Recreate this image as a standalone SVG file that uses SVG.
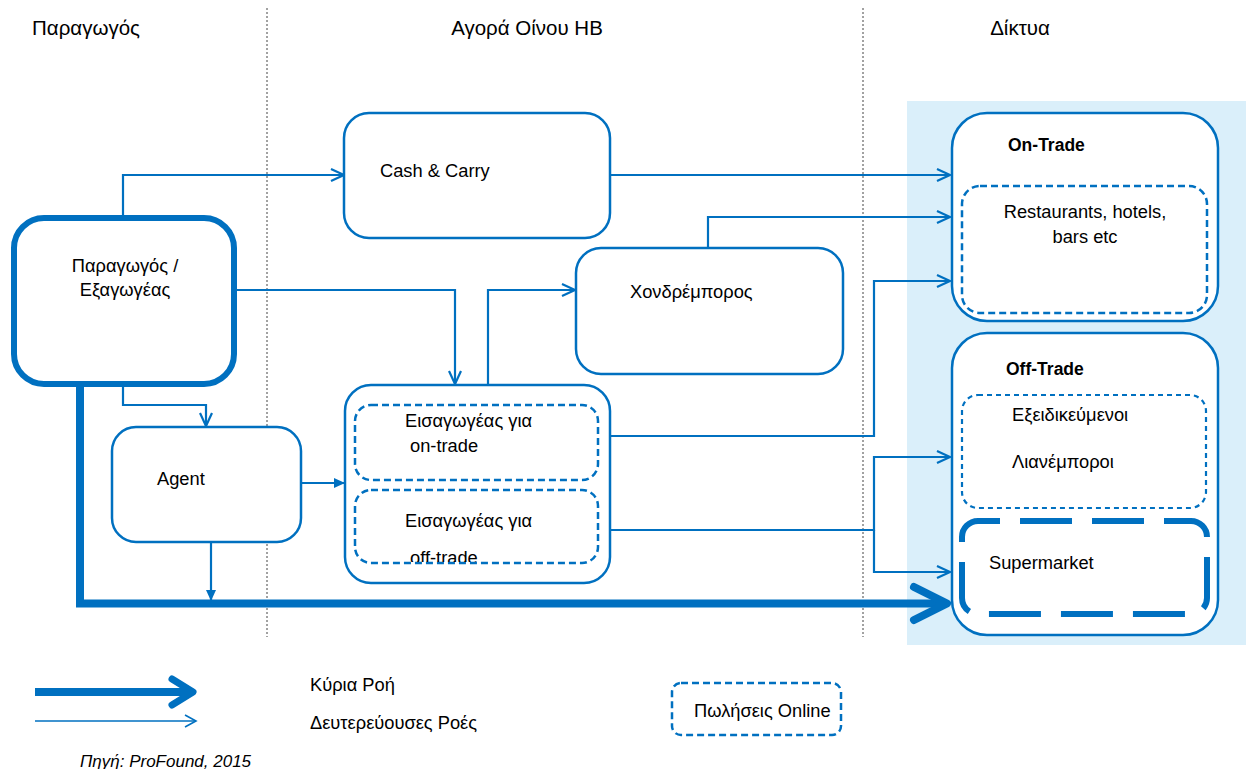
<svg xmlns="http://www.w3.org/2000/svg" width="1246" height="769" viewBox="0 0 1246 769">
<defs>
<style>
text{font-family:"Liberation Sans",Arial,sans-serif;font-size:18.3px;fill:#000}
.hdr{font-size:20.5px}
.b{font-weight:bold;font-size:17.5px}
.box{fill:#fff;stroke:#0070C0;stroke-width:2.5}
.dash{fill:none;stroke:#0070C0;stroke-width:2.5;stroke-dasharray:7,4}
.dash2{fill:none;stroke:#0070C0;stroke-width:2.2;stroke-dasharray:5,4}
.con{fill:none;stroke:#0070C0;stroke-width:2.2}
.sep{stroke:#444;stroke-width:1;stroke-dasharray:2,2}
</style>
<marker id="open" markerUnits="userSpaceOnUse" markerWidth="16" markerHeight="16" viewBox="0 0 16 16" refX="15" refY="8" orient="auto">
<path d="M2,2 L15,8 L2,14" fill="none" stroke="#0070C0" stroke-width="2.2"/>
</marker>
<marker id="fill" markerUnits="userSpaceOnUse" markerWidth="12" markerHeight="12" viewBox="0 0 12 12" refX="11" refY="6" orient="auto">
<path d="M0,1 L11,6 L0,11 Z" fill="#0070C0"/>
</marker>
<clipPath id="clipOff"><rect x="350" y="490" width="260" height="72"/></clipPath>
</defs>

<rect x="907" y="101" width="339" height="544" fill="#DAEFFA"/>

<line class="sep" x1="267" y1="8" x2="267" y2="637"/>
<line class="sep" x1="863" y1="8" x2="863" y2="637"/>

<g id="headers">
<text class="hdr" x="86" y="35" text-anchor="middle">Παραγωγός</text>
<text class="hdr" x="527" y="35" text-anchor="middle">Αγορά Οίνου ΗΒ</text>
<text class="hdr" x="1020" y="35" text-anchor="middle">Δίκτυα</text>
</g>

<g id="connectors">
<path class="con" d="M123,215 V175 H344" marker-end="url(#open)"/>
<path class="con" d="M237,290 H455 V384" marker-end="url(#open)"/>
<path class="con" d="M488,385 V290 H575" marker-end="url(#open)"/>
<path class="con" d="M610,175 H950" marker-end="url(#open)"/>
<path class="con" d="M708,248 V217 H950" marker-end="url(#open)"/>
<path class="con" d="M610,436 H874 V281 H950" marker-end="url(#open)"/>
<path class="con" d="M610,530 H874 V457 H950" marker-end="url(#open)"/>
<path class="con" d="M874,530 V572 H950" marker-end="url(#open)"/>
<path class="con" d="M123,387 V405 H206 V426" marker-end="url(#open)"/>
<path class="con" d="M301,483 H345" marker-end="url(#fill)"/>
<path class="con" d="M211,542 V601" marker-end="url(#fill)"/>
<path d="M80,387 V603.5 H944" fill="none" stroke="#0070C0" stroke-width="8"/>
<path d="M914,587 L947,603.5 L914,620" fill="none" stroke="#0070C0" stroke-width="8" stroke-linecap="round" stroke-linejoin="round"/>
</g>

<g id="producer">
<rect x="14" y="218" width="220" height="166" rx="30" fill="#fff" stroke="#0070C0" stroke-width="6"/>
<text x="125" y="272" text-anchor="middle">Παραγωγός /</text>
<text x="125" y="296" text-anchor="middle">Εξαγωγέας</text>
</g>

<g id="cashcarry">
<rect class="box" x="344" y="113" width="266" height="125" rx="25"/>
<text x="380" y="177">Cash &amp; Carry</text>
</g>

<g id="wholesaler">
<rect class="box" x="576" y="248" width="267" height="126" rx="25"/>
<text x="630" y="298">Χονδρέμπορος</text>
</g>

<g id="agent">
<rect class="box" x="112" y="427" width="189" height="115" rx="24"/>
<text x="157" y="485">Agent</text>
</g>

<g id="importer">
<rect class="box" x="345" y="385" width="265" height="198" rx="26"/>
<rect class="dash" x="355" y="405" width="243" height="75" rx="16"/>
<text x="405" y="427">Εισαγωγέας για</text>
<text x="410" y="452">on-trade</text>
<rect class="dash" x="355" y="490" width="243" height="73" rx="16"/>
<text x="405" y="527">Εισαγωγέας για</text>
<text x="410" y="564" clip-path="url(#clipOff)">off-trade</text>
</g>

<g id="ontrade">
<rect class="box" x="952" y="113" width="266" height="208" rx="35"/>
<text class="b" x="1008" y="151">On-Trade</text>
<rect class="dash" x="962" y="186" width="245" height="127" rx="18"/>
<text x="1085" y="218" text-anchor="middle">Restaurants, hotels,</text>
<text x="1085" y="243" text-anchor="middle">bars etc</text>
</g>

<g id="offtrade">
<rect class="box" x="952" y="333" width="266" height="302" rx="35"/>
<text class="b" x="1006" y="375">Off-Trade</text>
<rect class="dash2" x="962" y="395" width="244" height="113" rx="16"/>
<text x="1012" y="421">Εξειδικεύμενοι</text>
<text x="1012" y="468">Λιανέμποροι</text>
<rect x="962" y="521" width="245" height="93" rx="16" fill="none" stroke="#0070C0" stroke-width="6" stroke-dasharray="52,20" stroke-dashoffset="30"/>
<text x="989" y="569">Supermarket</text>
</g>

<g id="legend">
<path d="M35,692 H190" fill="none" stroke="#0070C0" stroke-width="8"/>
<path d="M172,679 L193,692 L172,705" fill="none" stroke="#0070C0" stroke-width="7" stroke-linecap="round" stroke-linejoin="round"/>
<path d="M35,721 H195" fill="none" stroke="#0070C0" stroke-width="1.6"/>
<path d="M185,715 L196,721 L185,727" fill="none" stroke="#0070C0" stroke-width="1.6"/>
<text x="310" y="691">Κύρια Ροή</text>
<text x="310" y="729">Δευτερεύουσες Ροές</text>
<rect class="dash" x="672" y="683" width="169" height="52" rx="9"/>
<text x="694" y="717">Πωλήσεις Online</text>
<text x="80" y="767" style="font-style:italic;font-size:17px">Πηγή: ProFound, 2015</text>
</g>
</svg>
